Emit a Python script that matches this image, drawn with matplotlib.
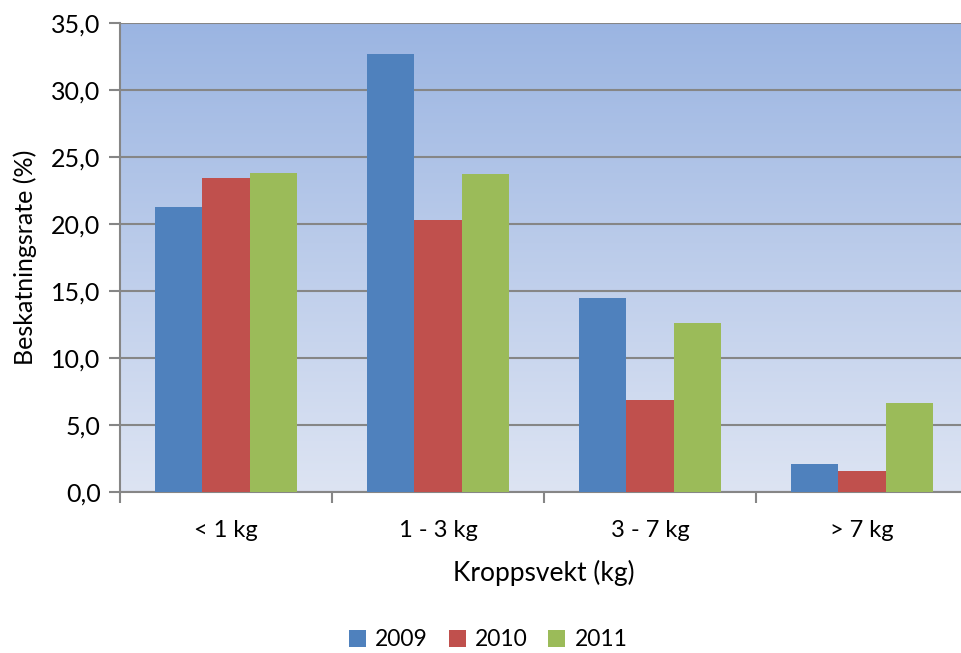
import numpy as np
import matplotlib
matplotlib.use('Agg')
import matplotlib.pyplot as plt
from matplotlib.colors import LinearSegmentedColormap

plt.rcParams['font.family'] = ['Lato', 'DejaVu Sans']

categories = ['< 1 kg', '1 - 3 kg', '3 - 7 kg', '> 7 kg']
years = ['2009', '2010', '2011']
v2009 = [21.3, 32.7, 14.5, 2.1]
v2010 = [23.4, 20.3, 6.9, 1.55]
v2011 = [23.8, 23.75, 12.6, 6.65]
colors = ['#4F81BD', '#C0504D', '#9BBB59']

fig = plt.figure(figsize=(9.61, 6.53), dpi=100)
ax = fig.add_axes([0.1249, 0.2466, 0.8824, 0.7182])

# gradient background
grad = LinearSegmentedColormap.from_list('bg', ['#DDE4F3', '#9BB5E2'])
ax.imshow(np.linspace(0, 1, 256).reshape(-1, 1), aspect='auto', cmap=grad,
          extent=[-0.5, 3.5, 0, 35], origin='lower', zorder=0)

x = np.arange(len(categories))
w = 0.222
for i, (vals, c, lab) in enumerate(zip([v2009, v2010, v2011], colors, years)):
    ax.bar(x + (i - 1) * w, vals, width=w, color=c, label=lab, zorder=3)

ax.set_xlim(-0.5, 3.5)
ax.set_ylim(0, 35)
ax.set_yticks(np.arange(0, 36, 5))
ax.set_yticklabels([f'{t:.1f}'.replace('.', ',') for t in np.arange(0, 36, 5)], fontsize=18)
ax.yaxis.grid(True, color='#868686', linewidth=1.5, zorder=1)
ax.set_axisbelow(False)
ax.set_xticks(x)
ax.set_xticklabels(categories, fontsize=17)
ax.set_xticks(np.arange(-0.5, 3.6, 1), minor=True)
ax.tick_params(axis='x', which='major', length=0, pad=20)
ax.tick_params(axis='x', which='minor', length=8, color='#868686', width=1.5)
ax.tick_params(axis='y', length=8, color='#868686', width=1.5, pad=6)

for s in ['top', 'right']:
    ax.spines[s].set_visible(False)
for s in ['left', 'bottom']:
    ax.spines[s].set_color('#868686')
    ax.spines[s].set_linewidth(1.5)

ax.set_xlabel('Kroppsvekt (kg)', fontsize=19, labelpad=14)
ax.set_ylabel('Beskatningsrate (%)', fontsize=18, labelpad=10)

fig.legend(loc='center', bbox_to_anchor=(0.508, 0.02), ncol=3, frameon=False,
           fontsize=16.5, handlelength=0.75, handleheight=0.75, columnspacing=0.9,
           handletextpad=0.4)

fig.savefig('out.png', dpi=100)
